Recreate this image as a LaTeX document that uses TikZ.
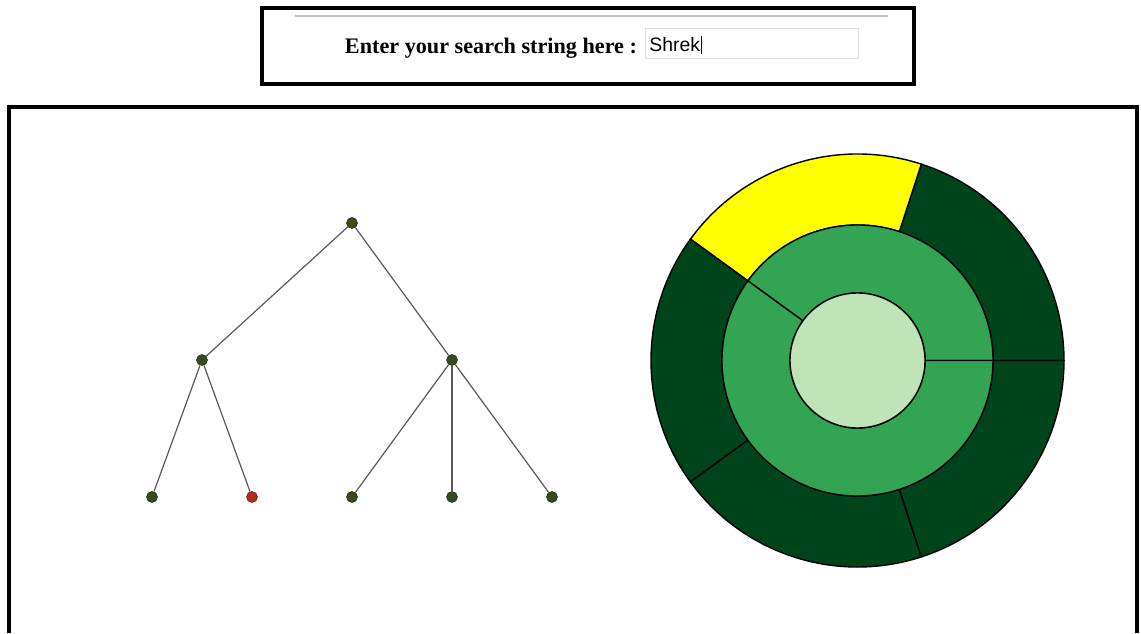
\documentclass[tikz,border=0pt]{standalone}
\usepackage{fontspec}
\setmainfont{Liberation Serif}
\newfontfamily\inputfont{Liberation Sans}
\usepackage{tikz}

\definecolor{dkgreen}{HTML}{00441B}
\definecolor{midgreen}{HTML}{33A354}
\definecolor{ltgreen}{HTML}{BFE4B8}
\definecolor{hilite}{HTML}{FFFF00}
\definecolor{treenode}{HTML}{3A4A20}
\definecolor{treered}{HTML}{B0301E}

\begin{document}
\begin{tikzpicture}[x=0.5pt,y=0.5pt,
  frame/.style={line width=2pt},
  ring/.style={draw=black,line width=0.7pt},
  dot/.style={circle,inner sep=0pt,minimum size=5.5pt,fill=treenode,draw=treenode!70!black,line width=0.3pt},
  edge/.style={draw=black!65,line width=0.6pt}]
\useasboundingbox (0,0) rectangle (1141,633);

% search bar
\draw[frame] (262,549) rectangle (914,625);
\draw[gray!50,line width=0.6pt] (295,617) -- (888,617);
\node[font=\bfseries\fontsize{11.1}{13}\selectfont] (prompt) at (491,585) {Enter your search string here :};
\draw[gray!25,line width=0.5pt] (645,574) rectangle (858,604);
\node[anchor=west,inner sep=0.5pt,font=\inputfont\fontsize{9.7}{11}\selectfont] (query) at (648,588) {Shrek};
\draw[line width=0.4pt] (query.north east) -- (query.south east);

% main panel
\draw[frame] (9,0) -- (9,526) -- (1137,526) -- (1137,0);

% tree
\node[dot] (root) at (352,410) {};
\node[dot] (a) at (202,273) {};
\node[dot] (b) at (452,273) {};
\node[dot] (a1) at (152,136) {};
\node[dot,fill=treered,draw=treered!70!black] (a2) at (252,136) {};
\node[dot] (b1) at (352,136) {};
\node[dot] (b2) at (452,136) {};
\node[dot] (b3) at (552,136) {};
\draw[edge] (root) -- (a);
\draw[edge] (root) -- (b);
\draw[edge] (a) -- (a1);
\draw[edge] (a) -- (a2);
\draw[edge] (b) -- (b1);
\draw[edge] (b) -- (b2);
\draw[edge] (b) -- (b3);

% sunburst
\begin{scope}[shift={(857.5,272.5)}]
\foreach \a/\col in {0/dkgreen,72/hilite,144/dkgreen,216/dkgreen,288/dkgreen}
  \filldraw[ring,fill=\col] (\a:135.5) -- (\a:206.5) arc (\a:\a+72:206.5) -- (\a+72:135.5) arc (\a+72:\a:135.5) -- cycle;
\foreach \a/\b in {0/144,144/360}
  \filldraw[ring,fill=midgreen] (\a:67.5) -- (\a:135.5) arc (\a:\b:135.5) -- (\b:67.5) arc (\b:\a:67.5) -- cycle;
\filldraw[ring,fill=ltgreen] (0,0) circle (67.5);
\end{scope}
\end{tikzpicture}
\end{document}
